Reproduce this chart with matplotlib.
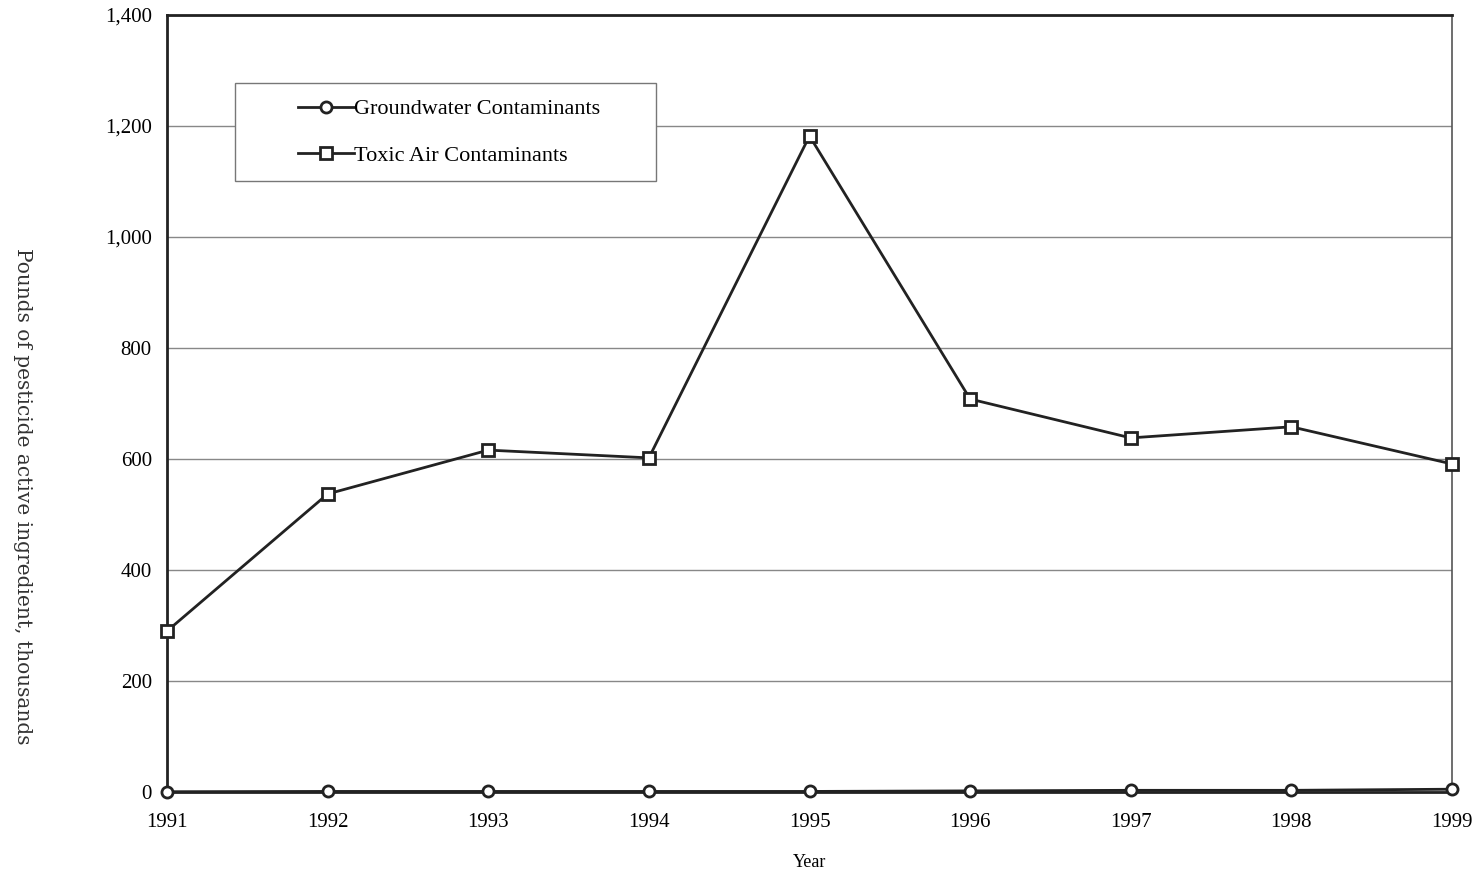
import matplotlib
matplotlib.use("Agg")
import matplotlib.pyplot as plt
from matplotlib.patches import Rectangle
from matplotlib.ticker import FuncFormatter

years = [1991, 1992, 1993, 1994, 1995, 1996, 1997, 1998, 1999]
groundwater = [0.5, 1, 1, 1, 1, 2, 3, 3, 5]
toxic_air = [290, 537, 616, 602, 1182, 708, 638, 658, 591]

plt.rcParams['font.family'] = ['Liberation Serif', 'DejaVu Serif']

fig = plt.figure(figsize=(14.81, 8.76), dpi=100)
ax = fig.add_axes([0.1128, 0.0959, 0.8676, 0.887])

ax.plot(years, groundwater, color='#222222', lw=2, marker='o', ms=8,
        mfc='white', mec='#222222', mew=2, label='Groundwater Contaminants', zorder=3, clip_on=False)
ax.plot(years, toxic_air, color='#222222', lw=2, marker='s', ms=8,
        mfc='white', mec='#222222', mew=2, label='Toxic Air Contaminants', zorder=3, clip_on=False)

ax.set_xlim(1991, 1999)
ax.set_ylim(0, 1400)
ax.set_xticks(years)
ax.set_yticks(range(0, 1401, 200))
ax.yaxis.set_major_formatter(FuncFormatter(lambda v, p: f"{int(v):,}"))
ax.tick_params(length=0, labelsize=15)
ax.tick_params(axis='x', pad=15)
ax.tick_params(axis='y', pad=11)
ax.grid(axis='y', color='#888888', lw=1)
ax.set_axisbelow(True)
for s in ['left', 'top', 'bottom']:
    ax.spines[s].set_linewidth(2)
    ax.spines[s].set_color('#222222')
ax.spines['right'].set_linewidth(1.2)
ax.spines['right'].set_color('#555555')

ax.set_xlabel('Year', fontsize=13, labelpad=16)
fig.text(0.015, 0.433, 'Pounds of pesticide active ingredient, thousands', rotation=-90,
         va='center', ha='center', fontsize=14.5, family=['DejaVu Serif'], color='#333333')

# legend box drawn separately so padding can differ per side
box = Rectangle((0.0529, 0.7864), 0.3276, 0.1261, transform=ax.transAxes,
                facecolor='white', edgecolor='#777777', lw=1, zorder=4)
ax.add_patch(box)
leg = ax.legend(loc='upper left', bbox_to_anchor=(0.1019, 0.892), fontsize=16,
                frameon=False, handlelength=2.5, handletextpad=0.0,
                borderpad=0, labelspacing=1.15, borderaxespad=0)
leg.set_zorder(5)

fig.savefig('out.png', dpi=100)
